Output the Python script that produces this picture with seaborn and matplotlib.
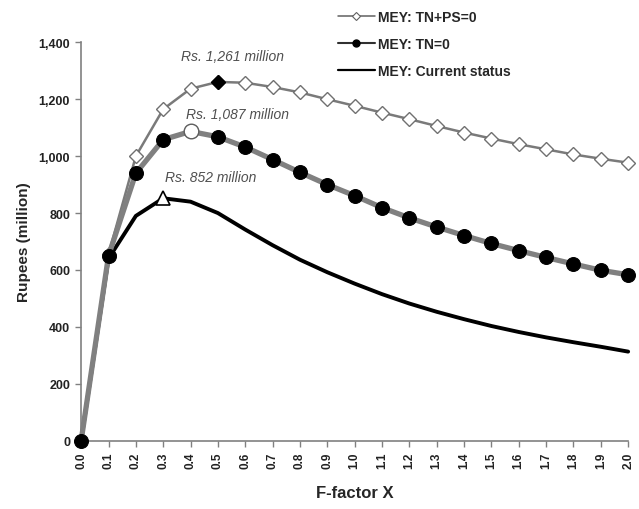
import seaborn as sns
import matplotlib.pyplot as plt
from matplotlib.lines import Line2D

# F-factor values
f_factor = [0.0, 0.1, 0.2, 0.3, 0.4, 0.5, 0.6, 0.7, 0.8, 0.9, 1.0,
            1.1, 1.2, 1.3, 1.4, 1.5, 1.6, 1.7, 1.8, 1.9, 2.0]

# MEY series (Rupees, million)
mey_tn_ps0 = [0, 655, 1000, 1165, 1237, 1261, 1258, 1243, 1224, 1200, 1177,
              1153, 1130, 1106, 1083, 1062, 1042, 1024, 1006, 991, 977]
mey_tn0 = [0, 650, 940, 1058, 1087, 1068, 1032, 988, 943, 900, 861,
           819, 783, 751, 721, 693, 668, 644, 621, 599, 583]
mey_current = [0, 640, 790, 852, 840, 800, 742, 687, 636, 592, 552,
               515, 482, 453, 427, 403, 382, 363, 346, 330, 313]

# peaks
peak_x = [0.5, 0.4, 0.3]
peak_y = [1261, 1087, 852]
peak_labels = ["Rs. 1,261 million", "Rs. 1,087 million", "Rs. 852 million"]
label_pos = [(0.552, 1352), (0.570, 1148), (0.472, 927)]

y_ticks = [0, 200, 400, 600, 800, 1000, 1200, 1400]
y_ticklabels = ["0", "200", "400", "600", "800", "1,000", "1,200", "1,400"]
x_ticklabels = [f"{v:.1f}" for v in f_factor]

sns.set_style("white")
plt.rcParams["font.family"] = ["Liberation Sans", "DejaVu Sans"]

fig = plt.figure(figsize=(6.39, 5.10), dpi=100)
ax = fig.add_axes([0.127, 0.134, 0.856, 0.781])

sns.lineplot(x=f_factor, y=mey_current, ax=ax, color="black", linewidth=2.8,
             zorder=3, clip_on=False)
sns.lineplot(x=f_factor, y=mey_tn_ps0, ax=ax, color="#7a7a7a", linewidth=1.8,
             marker="D", markersize=7, markerfacecolor="white",
             markeredgecolor="#707070", markeredgewidth=1.0, zorder=4, clip_on=False)
sns.lineplot(x=f_factor, y=mey_tn0, ax=ax, color="#808080", linewidth=3.8,
             marker="o", markersize=10, markerfacecolor="black",
             markeredgecolor="black", zorder=5, clip_on=False)

# highlighted maxima
ax.plot(peak_x[0], peak_y[0], marker="D", markersize=7, color="black",
        linestyle="none", zorder=6)
ax.plot(peak_x[1], peak_y[1], marker="o", markersize=10.5, markerfacecolor="white",
        markeredgecolor="#606060", linestyle="none", zorder=6)
ax.plot(peak_x[2], peak_y[2], marker="^", markersize=10, markerfacecolor="white",
        markeredgecolor="black", markeredgewidth=1.2, linestyle="none", zorder=6)

for (tx, ty), txt in zip(label_pos, peak_labels):
    ax.text(tx, ty, txt, ha="center", va="center", fontsize=10,
            style="italic", color="#505050")

ax.set_xlim(0, 2.0)
ax.set_ylim(0, 1400)
ax.set_xticks(f_factor)
ax.set_xticklabels(x_ticklabels, rotation=90, fontsize=8.5,
                   fontweight="bold", color="#222222")
ax.set_yticks(y_ticks)
ax.set_yticklabels(y_ticklabels, fontsize=9, fontweight="bold", color="#222222")
ax.tick_params(axis="both", direction="out", length=4, width=1,
               color="#808080", bottom=True, left=True, pad=4)
ax.set_xlabel("F-factor X", fontsize=12, fontweight="bold", labelpad=12)
ax.set_ylabel("Rupees (million)", fontsize=11, fontweight="bold", labelpad=5)

sns.despine(ax=ax)
for side in ["left", "bottom"]:
    ax.spines[side].set_color("#808080")
    ax.spines[side].set_linewidth(1.2)

handles = [
    Line2D([], [], color="#606060", linewidth=1.1, marker="D", markersize=4,
           markerfacecolor="white", markeredgecolor="#606060", markeredgewidth=0.8),
    Line2D([], [], color="#303030", linewidth=1.5, marker="o", markersize=5,
           markerfacecolor="black", markeredgecolor="black"),
    Line2D([], [], color="black", linewidth=1.6),
]
fig.legend(handles, ["MEY: TN+PS=0", "MEY: TN=0", "MEY: Current status"],
           loc="upper left", bbox_to_anchor=(0.51, 1.003), frameon=False,
           handlelength=2.6, handletextpad=0.25, labelspacing=0.92,
           prop={"size": 10, "weight": "bold"})

fig.savefig("out.png", dpi=100)
